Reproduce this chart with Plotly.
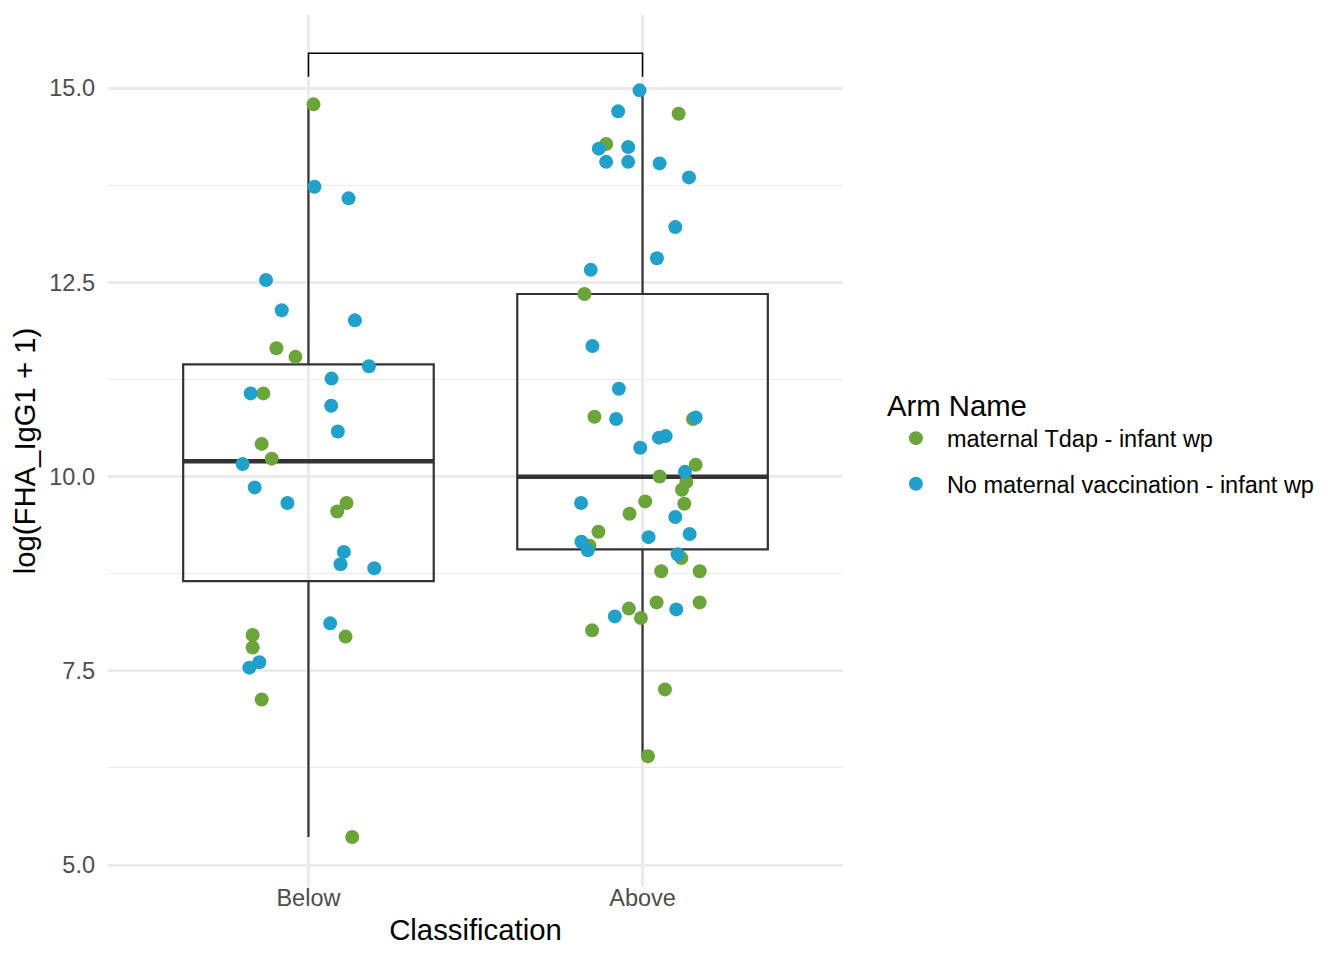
"""Box plot of log(FHA_IgG1 + 1) by classification, with jittered points per arm."""

import plotly.graph_objects as go

CATEGORIES = ["Below", "Above"]
ARMS = ["maternal Tdap - infant wp", "No maternal vaccination - infant wp"]
ARM_COLORS = ["#6AA43B", "#21A1C9"]

# box summaries per category (Below, Above)
Q1 = [8.655, 9.063]
MEDIAN = [10.196, 9.997]
Q3 = [11.444, 12.349]
LOWER = [5.36, 6.40]
UPPER = [14.79, 14.97]

# jittered points: horizontal offset from the category centre + value
BELOW_TDAP_DX = [0.015, -0.096, -0.039, -0.135, -0.140, -0.110, 0.114, 0.086,
                 -0.167, -0.167, 0.111, -0.140, 0.131]
BELOW_TDAP_Y = [14.79, 11.65, 11.54, 11.07, 10.42, 10.23, 9.66, 9.55,
                7.96, 7.80, 7.94, 7.13, 5.36]

BELOW_NONE_DX = [0.018, 0.120, -0.127, -0.080, 0.139, 0.181, 0.069, -0.173,
                 0.068, 0.088, -0.197, -0.161, -0.063, 0.106, 0.096, 0.197,
                 0.065, -0.147, -0.177]
BELOW_NONE_Y = [13.73, 13.58, 12.53, 12.14, 12.01, 11.42, 11.26, 11.07,
                10.91, 10.58, 10.16, 9.86, 9.66, 9.03, 8.87, 8.82,
                8.11, 7.61, 7.54]

ABOVE_TDAP_DX = [0.108, -0.109, -0.174, -0.144, 0.151, 0.159, 0.051, 0.131,
                 0.118, 0.008, 0.125, -0.039, -0.132, -0.159, 0.116, 0.056,
                 0.171, -0.151, -0.041, -0.005, 0.042, 0.171, 0.067, 0.016]
ABOVE_TDAP_Y = [14.67, 14.28, 12.35, 10.77, 10.74, 10.15, 10.00, 9.93,
                9.83, 9.68, 9.65, 9.52, 9.29, 9.11, 8.95, 8.78,
                8.78, 8.02, 8.30, 8.18, 8.38, 8.38, 7.26, 6.40]

ABOVE_NONE_DX = [-0.009, -0.073, -0.131, -0.043, -0.109, -0.043, 0.051, 0.139,
                 0.098, 0.043, -0.155, -0.150, -0.071, -0.079, 0.159, 0.049,
                 0.069, -0.007, 0.127, -0.184, 0.098, 0.141, 0.018, -0.183,
                 -0.164, 0.105, -0.083, 0.101]
ABOVE_NONE_Y = [14.97, 14.70, 14.22, 14.24, 14.05, 14.05, 14.03, 13.85,
                13.21, 12.81, 12.66, 11.68, 11.13, 10.74, 10.76, 10.50,
                10.52, 10.37, 10.06, 9.66, 9.48, 9.26, 9.22, 9.16,
                9.05, 9.00, 8.20, 8.29]

# comparison bracket between the two groups
BRACKET_TOP = 15.447
BRACKET_TIP = 15.145

FONT = "Liberation Sans, Arial, Helvetica, sans-serif"
BOX_WIDTH = 0.75

fig = go.Figure()

# boxes (no fill, no whisker caps like ggplot)
for i, cat in enumerate(CATEGORIES):
    fig.add_trace(go.Box(
        x=[i], q1=[Q1[i]], median=[MEDIAN[i]], q3=[Q3[i]],
        lowerfence=[LOWER[i]], upperfence=[UPPER[i]],
        width=BOX_WIDTH, whiskerwidth=0,
        fillcolor="rgba(0,0,0,0)",
        line=dict(color="#333333", width=2.2),
        boxpoints=False, showlegend=False, hoverinfo="skip",
    ))
    # thicker median bar
    fig.add_trace(go.Scatter(
        x=[i - BOX_WIDTH / 2, i + BOX_WIDTH / 2], y=[MEDIAN[i], MEDIAN[i]],
        mode="lines", line=dict(color="#333333", width=4.5),
        showlegend=False, hoverinfo="skip",
    ))

groups = [
    (BELOW_TDAP_DX + ABOVE_TDAP_DX, BELOW_TDAP_Y + ABOVE_TDAP_Y,
     [0] * len(BELOW_TDAP_DX) + [1] * len(ABOVE_TDAP_DX)),
    (BELOW_NONE_DX + ABOVE_NONE_DX, BELOW_NONE_Y + ABOVE_NONE_Y,
     [0] * len(BELOW_NONE_DX) + [1] * len(ABOVE_NONE_DX)),
]
for arm, color, (dx, ys, cats) in zip(ARMS, ARM_COLORS, groups):
    fig.add_trace(go.Scatter(
        x=[c + d for c, d in zip(cats, dx)], y=ys,
        mode="markers", name=arm, legendgroup=arm,
        marker=dict(color=color, size=14, line=dict(width=0)),
    ))

fig.add_trace(go.Scatter(
    x=[0, 0, 1, 1], y=[BRACKET_TIP, BRACKET_TOP, BRACKET_TOP, BRACKET_TIP],
    mode="lines", line=dict(color="#000000", width=1.5),
    showlegend=False, hoverinfo="skip",
))

fig.update_layout(
    width=1328, height=944,
    margin=dict(l=100, r=493, t=7, b=65),
    plot_bgcolor="white", paper_bgcolor="white",
    font=dict(family=FONT, color="#000000"),
    showlegend=True,
    legend=dict(
        title=dict(text="Arm Name", font=dict(size=29.3, color="#000000")),
        font=dict(size=23.5, color="#000000"),
        x=1.057, xanchor="left", y=0.51, yanchor="middle",
        traceorder="grouped", tracegroupgap=12, itemwidth=52,
        bgcolor="rgba(0,0,0,0)",
    ),
)
fig.update_xaxes(
    range=[-0.6, 1.6], tickvals=[0, 1], ticktext=CATEGORIES,
    showgrid=True, gridcolor="#EBEBEB", gridwidth=2.8,
    zeroline=False, showline=False, ticks="", ticklen=0,
    tickfont=dict(size=23.5, color="#4D4D4D"), ticklabelstandoff=-6,
    title=dict(text="Classification", font=dict(size=29.3, color="#000000"), standoff=9),
)
fig.update_yaxes(
    range=[4.717, 15.94], tick0=5, dtick=2.5, tickformat=".1f",
    showgrid=True, gridcolor="#EBEBEB", gridwidth=2.8,
    minor=dict(tick0=5, dtick=1.25, showgrid=True, gridcolor="#EBEBEB", gridwidth=1.4),
    zeroline=False, showline=False, ticks="",
    tickfont=dict(size=23.5, color="#4D4D4D"), ticklabelstandoff=12,
    title=dict(text="log(FHA_IgG1 + 1)", font=dict(size=29.3, color="#000000"), standoff=7),
)

fig.write_html("out.html")
